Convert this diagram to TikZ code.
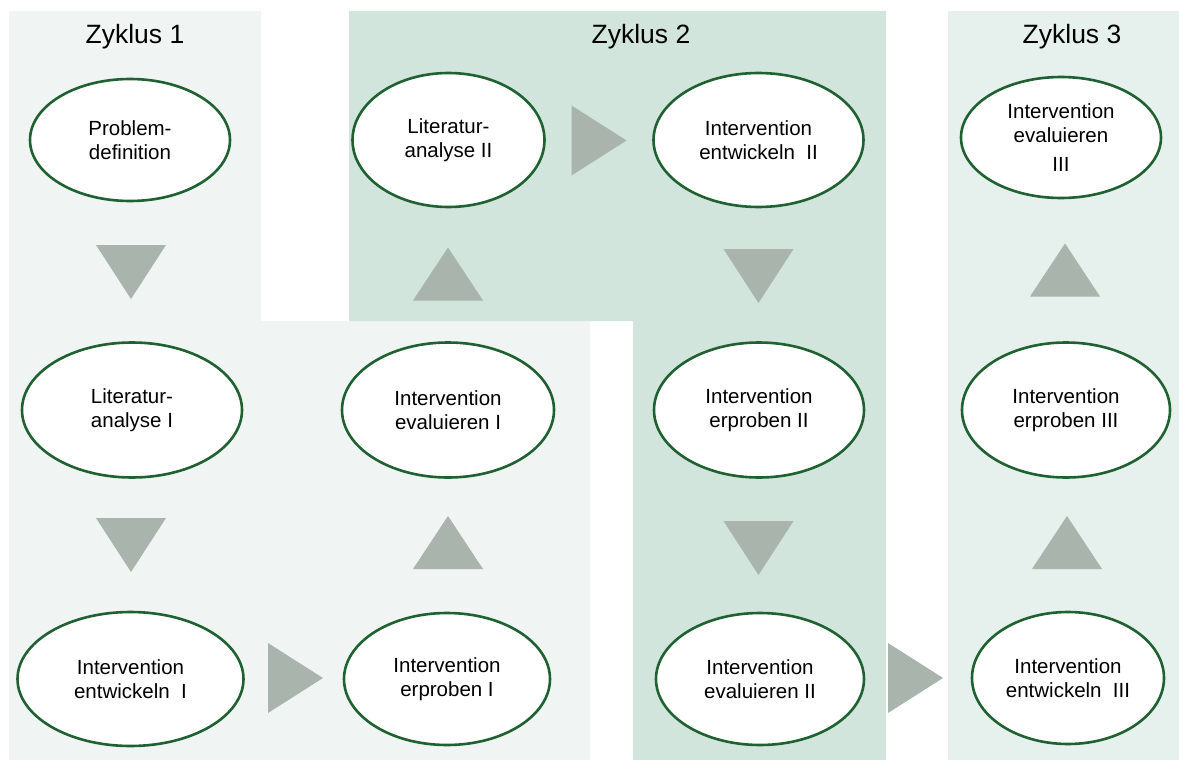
\documentclass[tikz,border=0pt]{standalone}
\usepackage{fontspec}
\setmainfont{Liberation Sans}
\usetikzlibrary{shapes.geometric}
\definecolor{zoneA}{RGB}{240,245,243}
\definecolor{zoneB}{RGB}{209,229,220}
\definecolor{zoneC}{RGB}{230,240,236}
\definecolor{trifill}{RGB}{169,180,172}
\definecolor{ringgreen}{RGB}{31,97,49}
\tikzset{
  phase/.style={ellipse, draw=ringgreen, line width=2.6pt, fill=white, inner sep=0pt,
    align=center, font=\fontsize{20.5}{23.5}\selectfont},
  zonetitle/.style={font=\fontsize{26.5}{30}\selectfont, inner sep=0pt},
  tri/.style={fill=trifill, draw=none},
  tridown/.pic={\fill[tri] (-35,-27) -- (35,-27) -- (0,27) -- cycle;},
  triup/.pic={\fill[tri] (-35,26.5) -- (35,26.5) -- (0,-26.5) -- cycle;},
  triright/.pic={\fill[tri] (-27.5,-35) -- (27.5,0) -- (-27.5,35) -- cycle;}
}
\begin{document}
\begin{tikzpicture}[x=1pt,y=-1pt]
\useasboundingbox (0,0) rectangle (1179,760);
% backgrounds
\fill[zoneA] (9,11) -- (261,11) -- (261,321) -- (590,321) -- (590,760) -- (9,760) -- cycle;
\fill[zoneB] (349,11) -- (886,11) -- (886,760) -- (633,760) -- (633,321) -- (349,321) -- cycle;
\fill[zoneC] (948,11) rectangle (1179,760);
% titles
\node[zonetitle] (t1) at (135,37) {Zyklus 1};
\node[zonetitle] (t2) at (641,37) {Zyklus 2};
\node[zonetitle] (t3) at (1072,37) {Zyklus 3};
% phases
\node[phase, minimum width=200pt, minimum height=122pt] (prob) at (130,140) {Problem-\\definition};
\node[phase, minimum width=192pt, minimum height=134pt] (lit2) at (448.5,140) {Literatur-\\analyse II};
\node[phase, minimum width=210pt, minimum height=134pt] (ent2) at (758.5,140) {Intervention\\entwickeln\ \ II};
\node[phase, minimum width=200pt, minimum height=121pt] (eva3) at (1061,137.5) {};
\node[font=\fontsize{20.5}{23.5}\selectfont, align=center, inner sep=0pt] (eva3txt) at (1061,138) {Intervention\\evaluieren\\[6pt]III};
\node[phase, minimum width=220pt, minimum height=135pt] (lit1) at (132,410) {Literatur-\\analyse I};
\node[phase, minimum width=212pt, minimum height=135pt] (eva1) at (448,410) {Intervention\\evaluieren I};
\node[phase, minimum width=210pt, minimum height=135pt] (erp2) at (759,410) {Intervention\\erproben II};
\node[phase, minimum width=208pt, minimum height=135pt] (erp3) at (1066,410) {Intervention\\erproben III};
\node[phase, minimum width=226pt, minimum height=134pt] (ent1) at (130.5,679) {Intervention\\entwickeln\ \ I};
\node[phase, minimum width=206pt, minimum height=132pt] (erp1) at (447,679) {Intervention\\erproben I};
\node[phase, minimum width=208pt, minimum height=132pt] (eva2) at (760,679) {Intervention\\evaluieren II};
\node[phase, minimum width=192pt, minimum height=132pt] (ent3) at (1068,678) {Intervention\\entwickeln\ \ III};
% arrow triangles
\pic at (131,272) {tridown};
\pic at (131,545) {tridown};
\pic at (295.5,678) {triright};
\pic at (448,542.5) {triup};
\pic at (448,274) {triup};
\pic at (599,140.5) {triright};
\pic at (758.5,276) {tridown};
\pic at (758.5,548) {tridown};
\pic at (915.5,678) {triright};
\pic at (1067,542.5) {triup};
\pic at (1065,270) {triup};
\end{tikzpicture}
\end{document}
